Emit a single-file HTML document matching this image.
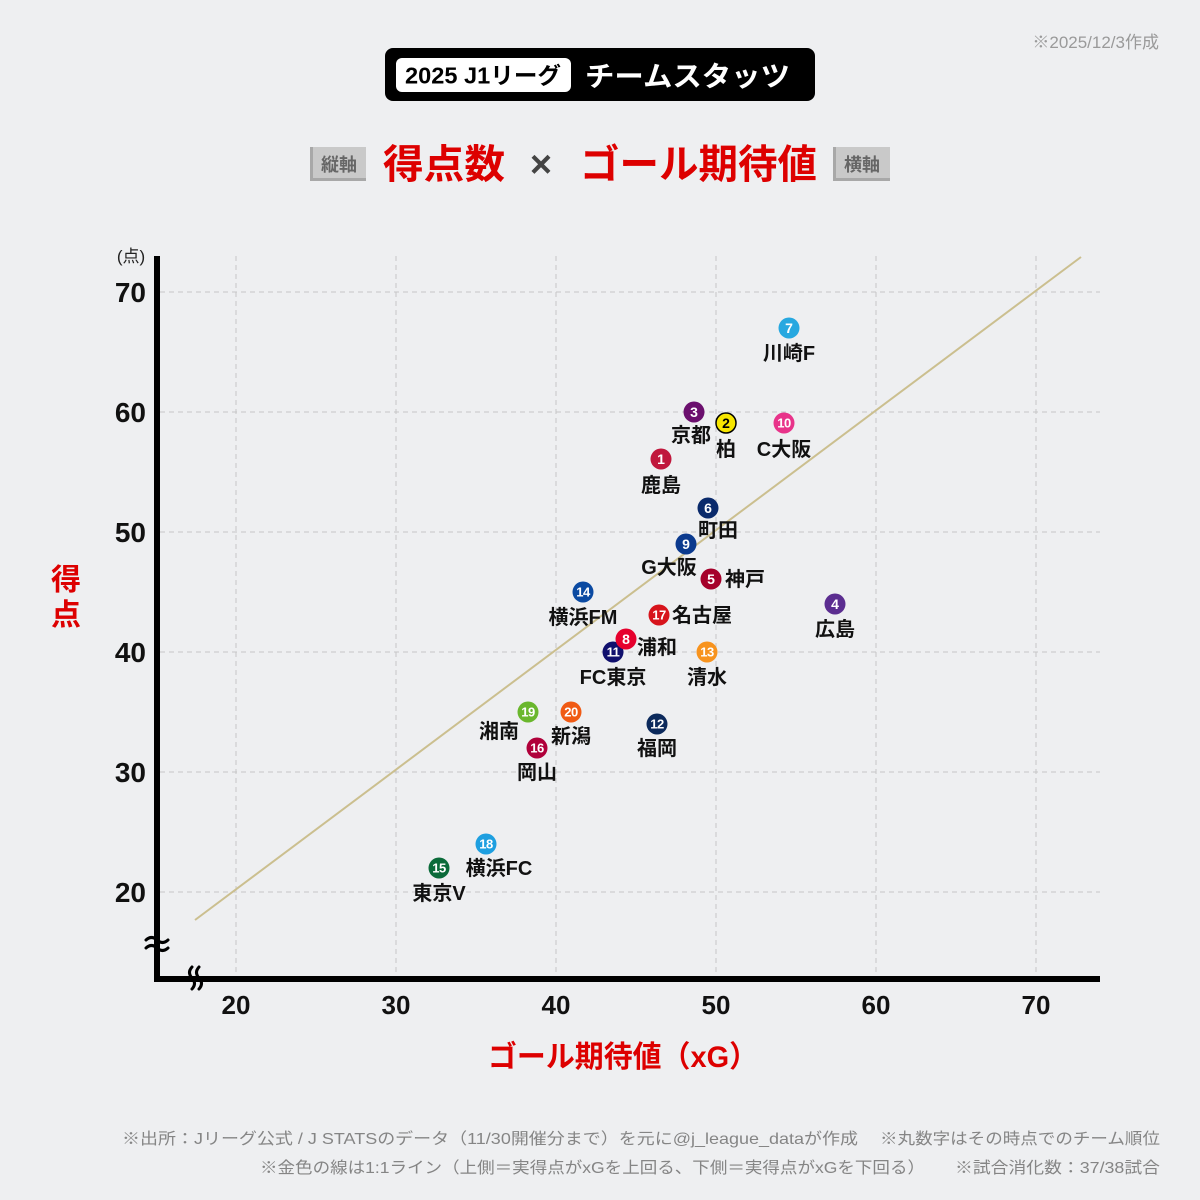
<!DOCTYPE html>
<html><head><meta charset="utf-8">
<style>
html,body{margin:0;padding:0;background:#eeeff1;}
svg{display:block;}
text{font-family:"Liberation Sans","Noto Sans CJK JP",sans-serif;}
</style></head>
<body>
<svg width="1200" height="1200" viewBox="0 0 1200 1200" xmlns="http://www.w3.org/2000/svg">
<rect width="1200" height="1200" fill="#eeeff1"/>

<!-- date -->
<text x="1159" y="48" font-size="17" fill="#9a9a9a" text-anchor="end">※2025/12/3作成</text>

<!-- title box -->
<rect x="385" y="48" width="430" height="53" rx="8" fill="#000"/>
<rect x="396" y="58" width="175" height="34" rx="6" fill="#fff"/>
<text x="483" y="83.5" font-size="23" font-weight="bold" fill="#000" text-anchor="middle" textLength="156" lengthAdjust="spacingAndGlyphs">2025 J1リーグ</text>
<text x="585" y="86" font-size="28" font-weight="bold" fill="#fff" textLength="205" lengthAdjust="spacingAndGlyphs">チームスタッツ</text>

<!-- subtitle -->
<rect x="310" y="147" width="56" height="34" fill="#c9c9c9"/>
<rect x="310" y="147" width="3" height="34" fill="#a8a8a8"/>
<rect x="310" y="178" width="56" height="3" fill="#a8a8a8"/>
<text x="339" y="171" font-size="18" font-weight="bold" fill="#666" text-anchor="middle">縦軸</text>
<text x="383" y="178" font-size="40" font-weight="bold" fill="#dd0000" textLength="122" lengthAdjust="spacingAndGlyphs">得点数</text>
<text x="541" y="177" font-size="38" font-weight="bold" fill="#444" text-anchor="middle">×</text>
<text x="580" y="178" font-size="40" font-weight="bold" fill="#dd0000" textLength="237" lengthAdjust="spacingAndGlyphs">ゴール期待値</text>
<rect x="833" y="147" width="57" height="34" fill="#c9c9c9"/>
<rect x="833" y="147" width="3" height="34" fill="#a8a8a8"/>
<rect x="833" y="178" width="57" height="3" fill="#a8a8a8"/>
<text x="862" y="171" font-size="18" font-weight="bold" fill="#666" text-anchor="middle">横軸</text>

<!-- grid -->
<g stroke="#c6c6c6" stroke-width="1" stroke-dasharray="5,4" fill="none">
<line x1="236" y1="256" x2="236" y2="976"/>
<line x1="396" y1="256" x2="396" y2="976"/>
<line x1="556" y1="256" x2="556" y2="976"/>
<line x1="716" y1="256" x2="716" y2="976"/>
<line x1="876" y1="256" x2="876" y2="976"/>
<line x1="1036" y1="256" x2="1036" y2="976"/>
<line x1="160" y1="292" x2="1100" y2="292"/>
<line x1="160" y1="412" x2="1100" y2="412"/>
<line x1="160" y1="532" x2="1100" y2="532"/>
<line x1="160" y1="652" x2="1100" y2="652"/>
<line x1="160" y1="772" x2="1100" y2="772"/>
<line x1="160" y1="892" x2="1100" y2="892"/>
</g>

<!-- 1:1 line -->
<line x1="195" y1="920" x2="1081" y2="257" stroke="#cbbf8f" stroke-width="2"/>

<!-- axes -->
<rect x="154" y="256" width="6" height="726" fill="#000"/>
<rect x="154" y="976" width="946" height="6" fill="#000"/>
<!-- breaks -->
<g stroke="#000" stroke-width="3" fill="none" stroke-linecap="round">
<path d="M146,940 q5.5,-5 11,0 t11,0"/>
<path d="M146,948 q5.5,-5 11,0 t11,0"/>
<path d="M192,967 q-5,5.5 0,11 t0,11"/>
<path d="M199,967 q-5,5.5 0,11 t0,11"/>
</g>

<!-- y ticks -->
<g font-size="28" font-weight="bold" fill="#111" text-anchor="end">
<text x="146" y="302">70</text>
<text x="146" y="422">60</text>
<text x="146" y="542">50</text>
<text x="146" y="662">40</text>
<text x="146" y="782">30</text>
<text x="146" y="902">20</text>
</g>
<text x="131" y="262" font-size="17" fill="#222" text-anchor="middle">(点)</text>

<!-- x ticks -->
<g font-size="26" font-weight="bold" fill="#111" text-anchor="middle">
<text x="236" y="1014">20</text>
<text x="396" y="1014">30</text>
<text x="556" y="1014">40</text>
<text x="716" y="1014">50</text>
<text x="876" y="1014">60</text>
<text x="1036" y="1014">70</text>
</g>

<!-- axis titles -->
<text x="66" y="590" font-size="30" font-weight="bold" fill="#dd0000" text-anchor="middle">得</text>
<text x="66" y="625" font-size="30" font-weight="bold" fill="#dd0000" text-anchor="middle">点</text>
<text x="488" y="1067" font-size="30" font-weight="bold" fill="#dd0000" textLength="270" lengthAdjust="spacingAndGlyphs">ゴール期待値（xG）</text>

<!-- points -->
<g font-weight="bold">
<circle cx="789" cy="328" r="10.5" fill="#27a8e0"/>
<text x="789" y="333" font-size="14" fill="#fff" text-anchor="middle">7</text>
<text x="789" y="360" font-size="20" fill="#111" text-anchor="middle">川崎F</text>

<circle cx="694" cy="412" r="10.5" fill="#6b0f6e"/>
<text x="694" y="417" font-size="14" fill="#fff" text-anchor="middle">3</text>
<text x="691" y="442" font-size="20" fill="#111" text-anchor="middle">京都</text>

<circle cx="726" cy="423" r="10" fill="#f7e600" stroke="#000" stroke-width="1.5"/>
<text x="726" y="428" font-size="14" fill="#000" text-anchor="middle">2</text>
<text x="726" y="456" font-size="20" fill="#111" text-anchor="middle">柏</text>

<circle cx="784" cy="423" r="10.5" fill="#e8338a"/>
<text x="784" y="427.5" font-size="13" fill="#fff" text-anchor="middle" letter-spacing="-0.5">10</text>
<text x="784" y="456" font-size="20" fill="#111" text-anchor="middle">C大阪</text>

<circle cx="661" cy="459" r="10.5" fill="#c0173c"/>
<text x="661" y="464" font-size="14" fill="#fff" text-anchor="middle">1</text>
<text x="661" y="492" font-size="20" fill="#111" text-anchor="middle">鹿島</text>

<circle cx="708" cy="508" r="10.5" fill="#0a2a6b"/>
<text x="708" y="513" font-size="14" fill="#fff" text-anchor="middle">6</text>
<text x="718" y="537" font-size="20" fill="#111" text-anchor="middle">町田</text>

<circle cx="686" cy="544" r="10.5" fill="#0b3a8e"/>
<text x="686" y="549" font-size="14" fill="#fff" text-anchor="middle">9</text>
<text x="669" y="574" font-size="20" fill="#111" text-anchor="middle">G大阪</text>

<circle cx="711" cy="579" r="10.5" fill="#a5002a"/>
<text x="711" y="584" font-size="14" fill="#fff" text-anchor="middle">5</text>
<text x="725" y="586" font-size="20" fill="#111">神戸</text>

<circle cx="583" cy="592" r="10.5" fill="#0b4aa2"/>
<text x="583" y="596.5" font-size="13" fill="#fff" text-anchor="middle" letter-spacing="-0.5">14</text>
<text x="583" y="624" font-size="20" fill="#111" text-anchor="middle">横浜FM</text>

<circle cx="835" cy="604" r="10.5" fill="#5b2d90"/>
<text x="835" y="609" font-size="14" fill="#fff" text-anchor="middle">4</text>
<text x="835" y="636" font-size="20" fill="#111" text-anchor="middle">広島</text>

<circle cx="659" cy="615" r="10.5" fill="#d7141c"/>
<text x="659" y="619.5" font-size="13" fill="#fff" text-anchor="middle" letter-spacing="-0.5">17</text>
<text x="672" y="622" font-size="20" fill="#111">名古屋</text>

<circle cx="613" cy="652" r="10.5" fill="#10106e"/>
<text x="613" y="656.5" font-size="13" fill="#fff" text-anchor="middle" letter-spacing="-0.5">11</text>
<text x="613" y="684" font-size="20" fill="#111" text-anchor="middle">FC東京</text>

<circle cx="626" cy="639" r="10.5" fill="#e6002d"/>
<text x="626" y="644" font-size="14" fill="#fff" text-anchor="middle">8</text>
<text x="637" y="654" font-size="20" fill="#111">浦和</text>

<circle cx="707" cy="652" r="10.5" fill="#f7931e"/>
<text x="707" y="656.5" font-size="13" fill="#fff" text-anchor="middle" letter-spacing="-0.5">13</text>
<text x="707" y="684" font-size="20" fill="#111" text-anchor="middle">清水</text>

<circle cx="528" cy="712" r="10.5" fill="#6ab72d"/>
<text x="528" y="716.5" font-size="13" fill="#fff" text-anchor="middle" letter-spacing="-0.5">19</text>
<text x="499" y="738" font-size="20" fill="#111" text-anchor="middle">湘南</text>

<circle cx="571" cy="712" r="10.5" fill="#f05a14"/>
<text x="571" y="716.5" font-size="13" fill="#fff" text-anchor="middle" letter-spacing="-0.5">20</text>
<text x="571" y="743" font-size="20" fill="#111" text-anchor="middle">新潟</text>

<circle cx="657" cy="724" r="10.5" fill="#0c2a5c"/>
<text x="657" y="728.5" font-size="13" fill="#fff" text-anchor="middle" letter-spacing="-0.5">12</text>
<text x="657" y="755" font-size="20" fill="#111" text-anchor="middle">福岡</text>

<circle cx="537" cy="748" r="10.5" fill="#b0003a"/>
<text x="537" y="752.5" font-size="13" fill="#fff" text-anchor="middle" letter-spacing="-0.5">16</text>
<text x="537" y="779" font-size="20" fill="#111" text-anchor="middle">岡山</text>

<circle cx="486" cy="844" r="10.5" fill="#1e9fe0"/>
<text x="486" y="848.5" font-size="13" fill="#fff" text-anchor="middle" letter-spacing="-0.5">18</text>
<text x="499" y="875" font-size="20" fill="#111" text-anchor="middle">横浜FC</text>

<circle cx="439" cy="868" r="10.5" fill="#0b6b3a"/>
<text x="439" y="872.5" font-size="13" fill="#fff" text-anchor="middle" letter-spacing="-0.5">15</text>
<text x="439" y="900" font-size="20" fill="#111" text-anchor="middle">東京V</text>
</g>

<!-- footer -->
<g font-size="16" fill="#858585">
<text x="122" y="1144" textLength="736" lengthAdjust="spacingAndGlyphs">※出所：Jリーグ公式 / J STATSのデータ（11/30開催分まで）を元に@j_league_dataが作成</text>
<text x="880" y="1144" textLength="280" lengthAdjust="spacingAndGlyphs">※丸数字はその時点でのチーム順位</text>
<text x="260" y="1173" textLength="665" lengthAdjust="spacingAndGlyphs">※金色の線は1:1ライン（上側＝実得点がxGを上回る、下側＝実得点がxGを下回る）</text>
<text x="955" y="1173" textLength="205" lengthAdjust="spacingAndGlyphs">※試合消化数：37/38試合</text>
</g>
</svg>
</body></html>
